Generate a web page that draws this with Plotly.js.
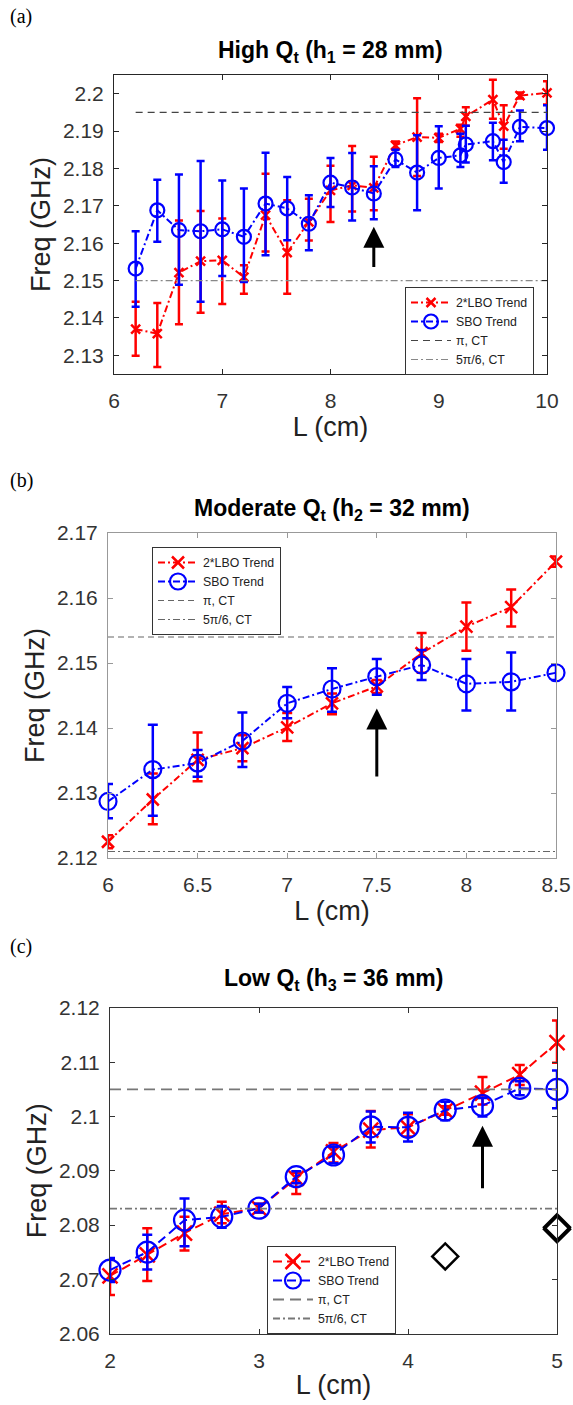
<!DOCTYPE html>
<html>
<head>
<meta charset="utf-8">
<script src="https://cdn.plot.ly/plotly-3.0.1.min.js"></script>
<style>html,body{margin:0;padding:0;background:#fff;}#chart{width:573px;height:1405px;}</style>
</head>
<body>
<div id="chart"></div>
<script>
// ---------- Panel (a): High Qt (h1 = 28 mm) ----------
const L_a = [6.2,6.4,6.6,6.8,7.0,7.2,7.4,7.6,7.8,8.0,8.2,8.4,8.6,8.8,9.0,9.2,9.25,9.5,9.6,9.75,10.0];
const lbo_a = [2.1370,2.1358,2.1521,2.1552,2.1554,2.1509,2.1675,2.1575,2.1657,2.1741,2.1755,2.1748,2.1862,2.1884,2.1882,2.1906,2.1939,2.1984,2.1913,2.1995,2.2002];
const lbo_a_hi = [0.0073,0.0082,0.0140,0.0134,0.0112,0.0032,0.0111,0.0140,0.0062,0.0066,0.0105,0.0083,0.0010,0.0104,0.0011,0.0011,0.0025,0.0053,0.0056,0.0008,0.0031];
const lbo_a_lo = [0.0071,0.0089,0.0138,0.0138,0.0117,0.0044,0.0097,0.0110,0.0050,0.0084,0.0070,0.0060,0.0010,0.0104,0.0011,0.0021,0.0025,0.0051,0.0060,0.0008,0.0031];
const sbo_a = [2.1532,2.1688,2.1635,2.1632,2.1637,2.1617,2.1706,2.1693,2.1652,2.1762,2.1749,2.1733,2.1824,2.1789,2.1828,2.1835,2.1864,2.1873,2.1817,2.1911,2.1908];
const sbo_a_hi = [0.0100,0.0082,0.0149,0.0188,0.0131,0.0129,0.0136,0.0084,0.0076,0.0066,0.0092,0.0073,0.0026,0.0100,0.0085,0.0058,0.0050,0.0049,0.0060,0.0044,0.0061];
const sbo_a_lo = [0.0102,0.0084,0.0146,0.0189,0.0125,0.0121,0.0138,0.0085,0.0071,0.0065,0.0088,0.0069,0.0020,0.0101,0.0082,0.0031,0.0048,0.0051,0.0055,0.0038,0.0058];
const refX_a = [6.2, 10];
const pi_a = 2.195, pi56_a = 2.150;
const arrow_a = {x: 8.4, tail: 2.1532, tip: 2.1644};
const xticks_a = [6,7,8,9,10];
const yticks_a = [2.13,2.14,2.15,2.16,2.17,2.18,2.19,2.2];
const ytext_a = ['2.13','2.14','2.15','2.16','2.17','2.18','2.19','2.2'];

// ---------- Panel (b): Moderate Qt (h2 = 32 mm) ----------
const L_b = [6,6.25,6.5,6.75,7,7.25,7.5,7.75,8,8.25,8.5];
const lbo_b = [2.1225,2.1290,2.1351,2.1369,2.1401,2.1438,2.1464,2.1515,2.1556,2.1586,2.1656];
const lbo_b_hi = [0.0010,0.0040,0.0042,0.0020,0.0022,0.0015,0.0010,0.0031,0.0037,0.0027,0.0008];
const lbo_b_lo = [0.0010,0.0038,0.0033,0.0020,0.0021,0.0017,0.0010,0.0030,0.0037,0.0030,0.0008];
const sbo_b = [2.1287,2.1336,2.1346,2.1380,2.1438,2.1460,2.1479,2.1497,2.1468,2.1471,2.1485];
const sbo_b_hi = [0.0027,0.0069,0.0020,0.0044,0.0025,0.0032,0.0027,0.0023,0.0038,0.0045,0.0012];
const sbo_b_lo = [0.0026,0.0071,0.0021,0.0040,0.0023,0.0035,0.0028,0.0023,0.0041,0.0044,0.0011];
const refX_b = [6, 8.5];
const pi_b = 2.154, pi56_b = 2.121;
const arrow_b = {x: 7.5, tail: 2.1323, tip: 2.1430};
const xticks_b = [6,6.5,7,7.5,8,8.5];
const xtext_b = ['6','6.5','7','7.5','8','8.5'];
const yticks_b = [2.12,2.13,2.14,2.15,2.16,2.17];
const ytext_b = ['2.12','2.13','2.14','2.15','2.16','2.17'];

// ---------- Panel (c): Low Qt (h3 = 36 mm) ----------
const L_c = [2,2.25,2.5,2.75,3,3.25,3.5,3.75,4,4.25,4.5,4.75,5];
const lbo_c = [2.0706,2.0745,2.0785,2.0820,2.0831,2.0886,2.0935,2.0975,2.0980,2.1011,2.1043,2.1077,2.1136];
const lbo_c_hi = [0.0030,0.0049,0.0030,0.0023,0.0008,0.0010,0.0016,0.0035,0.0024,0.0008,0.0030,0.0018,0.0041];
const lbo_c_lo = [0.0035,0.0048,0.0032,0.0017,0.0008,0.0029,0.0020,0.0032,0.0017,0.0008,0.0021,0.0019,0.0037];
const sbo_c = [2.0717,2.0750,2.0809,2.0815,2.0831,2.0889,2.0929,2.0981,2.0980,2.1012,2.1020,2.1052,2.1050];
const sbo_c_hi = [0.0022,0.0032,0.0040,0.0020,0.0008,0.0010,0.0015,0.0028,0.0027,0.0015,0.0014,0.0013,0.0035];
const sbo_c_lo = [0.0022,0.0032,0.0048,0.0020,0.0008,0.0012,0.0015,0.0029,0.0026,0.0019,0.0020,0.0013,0.0035];
const diamondX_c = [4.25, 5, 5];
const diamondY_c = [2.0742, 2.0792, 2.0796];
const refX_c = [2, 5];
const pi_c = 2.105, pi56_c = 2.083;
const arrow_c = {x: 4.5, tail: 2.0865, tip: 2.0983};
const xticks_c = [2,3,4,5];
const yticks_c = [2.06,2.07,2.08,2.09,2.1,2.11,2.12];
const ytext_c = ['2.06','2.07','2.08','2.09','2.1','2.11','2.12'];

const legendNames = ['2*LBO Trend', 'SBO Trend', 'π, CT', '5π/6, CT'];

// ---------- layout helpers ----------
const W = 573, H = 1405;
const dx = (a, b) => [a / W, b / W];
const dy = (top, bottom) => [1 - bottom / H, 1 - top / H];
const RED = '#ff0000', BLUE = '#0000ff';
const DASHDOT = '7px,3px,2px,3px';

function seriesTraces(xa, ya, L, lbo, lhi, llo, sbo, shi, slo, opt, legendId) {
  return [
    {x: L, y: lbo, xaxis: xa, yaxis: ya, type: 'scatter', mode: 'lines+markers', cliponaxis: false,
     name: legendNames[0], legend: legendId,
     line: {color: RED, width: 2, dash: opt.dash},
     marker: {symbol: 'x-thin', size: opt.xsize, color: RED, line: {color: RED, width: opt.xw}},
     error_y: {type: 'data', symmetric: false, array: lhi, arrayminus: llo, color: RED, thickness: opt.eth, width: opt.cap}},
    {x: L, y: sbo, xaxis: xa, yaxis: ya, type: 'scatter', mode: 'lines+markers', cliponaxis: false,
     name: legendNames[1], legend: legendId,
     line: {color: BLUE, width: 2, dash: opt.dash},
     marker: {symbol: 'circle-open', size: opt.osize, color: BLUE, line: {color: BLUE, width: 2.2}},
     error_y: {type: 'data', symmetric: false, array: shi, arrayminus: slo, color: BLUE, thickness: opt.eth, width: opt.cap}}
  ];
}
function refTraces(xa, ya, rx, p, p56, opt, legendId) {
  return [
    {x: rx, y: [p, p], xaxis: xa, yaxis: ya, type: 'scatter', mode: 'lines', name: legendNames[2], legend: legendId,
     line: {color: opt.c1, width: opt.w, dash: opt.d1}},
    {x: rx, y: [p56, p56], xaxis: xa, yaxis: ya, type: 'scatter', mode: 'lines', name: legendNames[3], legend: legendId,
     line: {color: opt.c2, width: opt.w, dash: DASHDOT}}
  ];
}

const data = [].concat(
  seriesTraces('x', 'y', L_a, lbo_a, lbo_a_hi, lbo_a_lo, sbo_a, sbo_a_hi, sbo_a_lo,
    {dash: DASHDOT, xsize: 9, xw: 2.5, osize: 14, eth: 2.5, cap: 4}, 'legend'),
  refTraces('x', 'y', refX_a, pi_a, pi56_a, {c1: '#444', c2: '#888', w: 1.2, d1: '7px,5px'}, 'legend'),
  seriesTraces('x2', 'y2', L_b, lbo_b, lbo_b_hi, lbo_b_lo, sbo_b, sbo_b_hi, sbo_b_lo,
    {dash: DASHDOT, xsize: 12, xw: 2.5, osize: 17, eth: 2.5, cap: 5}, 'legend2'),
  refTraces('x2', 'y2', refX_b, pi_b, pi56_b, {c1: '#666', c2: '#666', w: 1.1, d1: '6px,4px'}, 'legend2'),
  seriesTraces('x3', 'y3', L_c, lbo_c, lbo_c_hi, lbo_c_lo, sbo_c, sbo_c_hi, sbo_c_lo,
    {dash: '9px,5px', xsize: 15, xw: 2.5, osize: 21, eth: 2.5, cap: 5}, 'legend3'),
  refTraces('x3', 'y3', refX_c, pi_c, pi56_c, {c1: '#777', c2: '#777', w: 1.8, d1: '11px,6px'}, 'legend3'),
  [{x: diamondX_c, y: diamondY_c, xaxis: 'x3', yaxis: 'y3', type: 'scatter', mode: 'markers', showlegend: false, cliponaxis: false,
    marker: {symbol: 'diamond-open', size: 20, color: '#000', line: {color: '#000', width: 2.5}}}]
);

const tickFont = {family: 'Liberation Sans, Arial, sans-serif', size: 21, color: '#333'};
const titleFont = {family: 'Liberation Sans, Arial, sans-serif', size: 27, color: '#222'};
function xax(domain, range, tv, tt, anchor, lc) {
  return {domain, range, tickvals: tv, ticktext: tt, anchor, showline: true, mirror: 'ticks', linecolor: lc, linewidth: 1,
    ticks: 'inside', ticklen: 5, tickcolor: lc, showgrid: false, zeroline: false, tickfont: tickFont, ticklabelstandoff: 8,
    title: {text: 'L (cm)', font: titleFont, standoff: 4}};
}
function yax(domain, range, tv, tt, anchor, lc) {
  return {domain, range, tickvals: tv, ticktext: tt, anchor, showline: true, mirror: 'ticks', linecolor: lc, linewidth: 1,
    ticks: 'inside', ticklen: 5, tickcolor: lc, showgrid: false, zeroline: false, tickfont: tickFont, ticklabelstandoff: 5,
    title: {text: 'Freq (GHz)', font: titleFont, standoff: 4}};
}
const legendBase = {bgcolor: '#fff', bordercolor: '#333', borderwidth: 1, xanchor: 'left', yanchor: 'top',
  font: {family: 'Liberation Sans, Arial, sans-serif', size: 12.3, color: '#222'}, tracegroupgap: 0, itemwidth: 40};

const titleTextFont = {family: 'Liberation Sans, Arial, sans-serif', size: 23, color: '#000'};
const layout = {
  width: W, height: H, margin: {l: 0, r: 0, t: 0, b: 0}, paper_bgcolor: '#fff', plot_bgcolor: '#fff',
  showlegend: true,
  xaxis: xax(dx(114, 547), [6, 10], xticks_a, xticks_a.map(String), 'y', '#262626'),
  yaxis: yax(dy(75, 374), [2.125, 2.205], yticks_a, ytext_a, 'x', '#262626'),
  xaxis2: xax(dx(108, 556), [6, 8.5], xticks_b, xtext_b, 'y2', '#999'),
  yaxis2: yax(dy(533, 858), [2.12, 2.17], yticks_b, ytext_b, 'x2', '#999'),
  xaxis3: xax(dx(110, 557), [2, 5], xticks_c, xticks_c.map(String), 'y3', '#333'),
  yaxis3: yax(dy(1008, 1333.5), [2.06, 2.12], yticks_c, ytext_c, 'x3', '#333'),
  legend: Object.assign({}, legendBase, {x: 405 / W, y: 1 - 287 / H}),
  legend2: Object.assign({}, legendBase, {x: 152 / W, y: 1 - 547 / H}),
  legend3: Object.assign({}, legendBase, {x: 267 / W, y: 1 - 1246 / H}),
  annotations: [
    {xref: 'paper', yref: 'paper', x: 8 / W, y: 1 - 16 / H, xanchor: 'left', yanchor: 'middle', showarrow: false,
     text: '(a)', font: {family: 'Liberation Serif, Times New Roman, serif', size: 20, color: '#000'}},
    {xref: 'paper', yref: 'paper', x: 8 / W, y: 1 - 481 / H, xanchor: 'left', yanchor: 'middle', showarrow: false,
     text: '(b)', font: {family: 'Liberation Serif, Times New Roman, serif', size: 20, color: '#000'}},
    {xref: 'paper', yref: 'paper', x: 8 / W, y: 1 - 946 / H, xanchor: 'left', yanchor: 'middle', showarrow: false,
     text: '(c)', font: {family: 'Liberation Serif, Times New Roman, serif', size: 20, color: '#000'}},
    {xref: 'paper', yref: 'paper', x: 330 / W, y: 1 - 52 / H, xanchor: 'center', yanchor: 'middle', showarrow: false,
     text: '<b>High Q<sub>t</sub> (h<sub>1</sub> = 28 mm)</b>', font: titleTextFont},
    {xref: 'paper', yref: 'paper', x: 332 / W, y: 1 - 509 / H, xanchor: 'center', yanchor: 'middle', showarrow: false,
     text: '<b>Moderate Q<sub>t</sub> (h<sub>2</sub> = 32 mm)</b>', font: titleTextFont},
    {xref: 'paper', yref: 'paper', x: 333 / W, y: 1 - 979 / H, xanchor: 'center', yanchor: 'middle', showarrow: false,
     text: '<b>Low Q<sub>t</sub> (h<sub>3</sub> = 36 mm)</b>', font: titleTextFont},
    {xref: 'x', yref: 'y', axref: 'x', ayref: 'y', x: arrow_a.x, y: arrow_a.tip, ax: arrow_a.x, ay: arrow_a.tail,
     text: '', showarrow: true, arrowhead: 2, arrowsize: 1.4, arrowwidth: 3, arrowcolor: '#000'},
    {xref: 'x2', yref: 'y2', axref: 'x2', ayref: 'y2', x: arrow_b.x, y: arrow_b.tip, ax: arrow_b.x, ay: arrow_b.tail,
     text: '', showarrow: true, arrowhead: 2, arrowsize: 1.4, arrowwidth: 3, arrowcolor: '#000'},
    {xref: 'x3', yref: 'y3', axref: 'x3', ayref: 'y3', x: arrow_c.x, y: arrow_c.tip, ax: arrow_c.x, ay: arrow_c.tail,
     text: '', showarrow: true, arrowhead: 2, arrowsize: 1.4, arrowwidth: 3, arrowcolor: '#000'}
  ]
};

Plotly.newPlot('chart', data, layout, {staticPlot: true, displayModeBar: false});
</script>
</body>
</html>
